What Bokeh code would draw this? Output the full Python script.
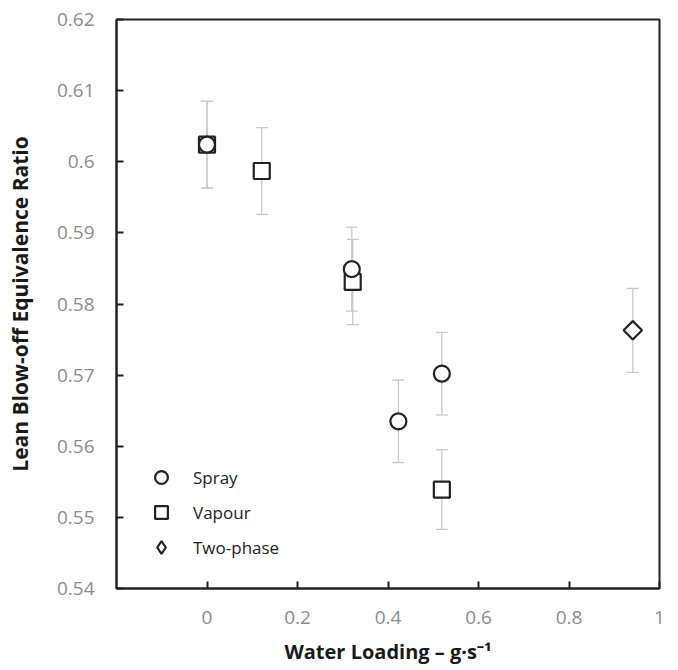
import math
from bokeh.plotting import figure
from bokeh.models import ColumnDataSource, Whisker, FixedTicker, TeeHead, Range1d
from bokeh.embed import file_html
from bokeh.resources import INLINE

# ---- data ----
spray_x = [0.0, 0.32, 0.423, 0.519]
spray_y = [0.6024, 0.5849, 0.5635, 0.5702]
spray_err = [0.0061, 0.0059, 0.0058, 0.0058]

vapour_x = [0.0, 0.121, 0.322, 0.519]
vapour_y = [0.6024, 0.5987, 0.5831, 0.5539]
vapour_err = [0.0061, 0.0061, 0.0060, 0.0056]

two_x = [0.941]
two_y = [0.5763]
two_err = [0.0059]

x_ticks = [0, 0.2, 0.4, 0.6, 0.8, 1.0]
x_labels = ["0", "0.2", "0.4", "0.6", "0.8", "1"]
y_ticks = [0.54, 0.55, 0.56, 0.57, 0.58, 0.59, 0.60, 0.61, 0.62]
y_labels = ["0.54", "0.55", "0.56", "0.57", "0.58", "0.59", "0.6", "0.61", "0.62"]

FONT = "Open Sans"
TICK_COLOR = "#8c8c8c"
MARK = "#222222"
ERR = "#c8c8c8"

p = figure(width=670, height=670, output_backend="svg", toolbar_location=None,
           x_range=Range1d(-0.2, 1.0), y_range=Range1d(0.54, 0.62),
           min_border_left=116, min_border_top=19, min_border_right=11,
           min_border_bottom=82)
p.grid.visible = False
p.outline_line_color = "#222222"
p.outline_line_width = 2
p.background_fill_color = "white"
p.border_fill_color = "white"

for ax in (p.xaxis[0], p.yaxis[0]):
    ax.axis_line_color = "#222222"
    ax.axis_line_width = 2
    ax.major_tick_in = 7
    ax.major_tick_out = 0
    ax.major_tick_line_width = 2
    ax.major_tick_line_color = "#222222"
    ax.minor_tick_line_color = None
    ax.major_label_text_color = TICK_COLOR
    ax.major_label_text_font = FONT
    ax.major_label_text_font_size = "19px"
    ax.axis_label_text_font = FONT
    ax.axis_label_text_font_style = "bold"
    ax.axis_label_text_font_size = "20px"
    ax.axis_label_text_color = "#1a1a1a"

p.xaxis.ticker = FixedTicker(ticks=x_ticks)
p.xaxis.major_label_overrides = {t: l for t, l in zip(x_ticks, x_labels)}
p.yaxis.ticker = FixedTicker(ticks=y_ticks)
p.yaxis.major_label_overrides = {t: l for t, l in zip(y_ticks, y_labels)}
p.xaxis.major_label_standoff = 22
p.yaxis.major_label_standoff = 22
p.xaxis.axis_label = "Water Loading – g·s⁻¹"
p.xaxis.axis_label_standoff = 11
p.yaxis.axis_label = "Lean Blow-off Equivalence Ratio"
p.yaxis.axis_label_standoff = 20
p.yaxis.axis_label_text_font_size = "21px"

def err_source(xs, ys, es):
    return ColumnDataSource(dict(base=xs, upper=[y + e for y, e in zip(ys, es)],
                                 lower=[y - e for y, e in zip(ys, es)]))

for xs, ys, es in ((spray_x, spray_y, spray_err), (vapour_x, vapour_y, vapour_err),
                   (two_x, two_y, two_err)):
    w = Whisker(source=err_source(xs, ys, es), base="base", upper="upper", lower="lower",
                line_color=ERR, line_width=1.3,
                upper_head=TeeHead(size=12, line_color=ERR, line_width=1.3),
                lower_head=TeeHead(size=12, line_color=ERR, line_width=1.3))
    p.add_layout(w)

p.scatter(vapour_x, vapour_y, marker="square", size=16, fill_color="white",
          line_color=MARK, line_width=2.2, legend_label="Vapour")
p.scatter(spray_x, spray_y, marker="circle", size=16, fill_color="white",
          line_color=MARK, line_width=2.2, legend_label="Spray")
# diamond (used for legend key), covered by a rotated square for an even-sided diamond
p.scatter(two_x, two_y, marker="diamond", size=18, fill_color="white",
          line_color=MARK, line_width=2.2, legend_label="Two-phase")
p.scatter(two_x, two_y, marker="square", size=13, angle=math.pi / 4, fill_color="white",
          line_color=MARK, line_width=2.2)

leg = p.legend[0]
items = {it.label.value: it for it in leg.items}
leg.items = [items["Spray"], items["Vapour"], items["Two-phase"]]
leg.location = (29, 25)
leg.border_line_color = None
leg.background_fill_alpha = 0
leg.padding = 0
leg.margin = 0
leg.spacing = 3
leg.glyph_width = 32
leg.glyph_height = 32
leg.label_height = 32
leg.label_standoff = 16
leg.label_text_font = FONT
leg.label_text_font_size = "17px"
leg.label_text_color = "#222222"

open("out.html", "w").write(file_html(p, INLINE))
